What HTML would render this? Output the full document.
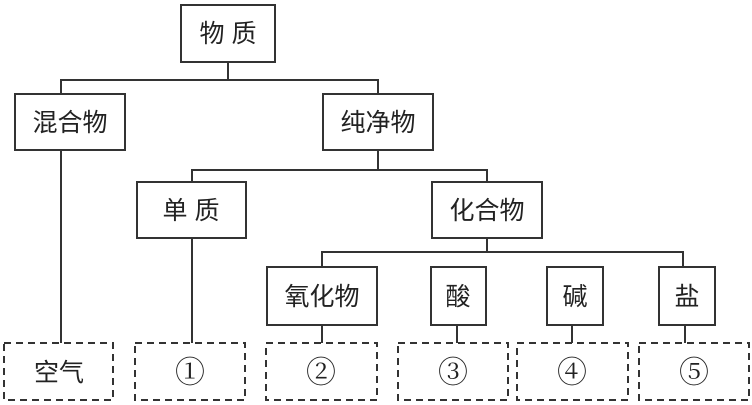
<!DOCTYPE html>
<html><head><meta charset="utf-8"><style>
html,body{margin:0;padding:0;background:#fff;}
svg{display:block;}
text{font-family:"Liberation Sans","Noto Sans CJK SC",sans-serif;font-size:25px;fill:#222;text-anchor:middle;dominant-baseline:central;}
text.n{font-family:"Liberation Serif","Noto Serif CJK SC",serif;font-size:30px;}
</style></head><body>
<svg width="752" height="405" viewBox="0 0 752 405">
<g fill="none" stroke="#333" stroke-width="2">
<rect x="181" y="5" width="94" height="57"/>
<rect x="15" y="94" width="110" height="56"/>
<rect x="323" y="94" width="110" height="56"/>
<rect x="137" y="182" width="109" height="56"/>
<rect x="432" y="182" width="110" height="56"/>
<rect x="267" y="267" width="110" height="58"/>
<rect x="431" y="267" width="55" height="58"/>
<rect x="547" y="267" width="56" height="58"/>
<rect x="659" y="267" width="56" height="58"/>
<path d="M228 62V80M61 94V80H378V94M61 150V343M378 150V170M192 182V170H487V182M192 238V343M487 238V252M322 267V252H683V267M322 325V343M457 325V343M572 325V343M685 325V343"/>
</g>
<g fill="none" stroke="#333" stroke-width="2" stroke-dasharray="7,5">
<rect x="4" y="343" width="109" height="57"/>
<rect x="135" y="343" width="110" height="57"/>
<rect x="266" y="343" width="111" height="57"/>
<rect x="398" y="343" width="110" height="57"/>
<rect x="517" y="343" width="111" height="57"/>
<rect x="639" y="343" width="110" height="57"/>
</g>
<text x="228" y="34">物 质</text>
<text x="70" y="123">混合物</text>
<text x="378" y="123">纯净物</text>
<text x="191" y="211">单 质</text>
<text x="487" y="211">化合物</text>
<text x="322" y="297">氧化物</text>
<text x="458" y="297">酸</text>
<text x="575" y="297">碱</text>
<text x="687" y="297">盐</text>
<text x="59" y="373">空气</text>
<text class="n" x="190" y="373">①</text>
<text class="n" x="321" y="373">②</text>
<text class="n" x="453" y="373">③</text>
<text class="n" x="572" y="373">④</text>
<text class="n" x="694" y="373">⑤</text>
</svg>
</body></html>
